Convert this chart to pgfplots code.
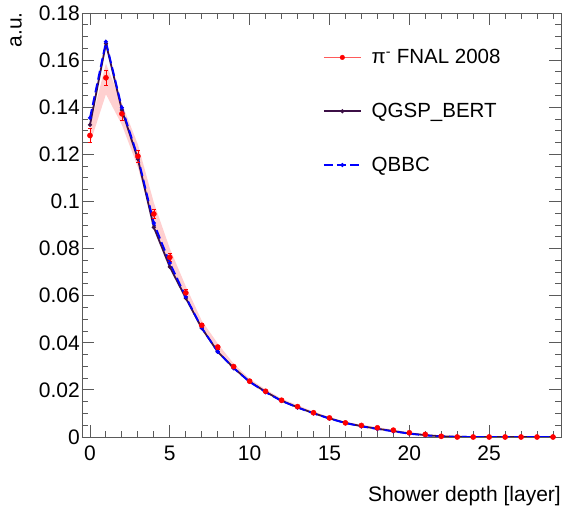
\documentclass[border=0pt]{standalone}
\usepackage{fontspec}
\setmainfont{Liberation Sans}
\usepackage{pgfplots}
\usepackage{pgfplotstable}
\pgfplotsset{compat=1.18}
\definecolor{qgsp}{RGB}{60,15,70}
\definecolor{bandc}{RGB}{255,208,208}
\definecolor{axisc}{RGB}{90,90,90}
\definecolor{datred}{RGB}{255,0,0}
\definecolor{lightred}{RGB}{255,90,90}

\pgfplotstableread{
x y e
0 0.1280 0.0030
1 0.1525 0.0032
2 0.1372 0.0027
3 0.1192 0.0024
4 0.0947 0.0020
5 0.0763 0.0016
6 0.0612 0.0013
7 0.0474 0.0010
8 0.0382 0.0008
9 0.0299 0.0006
10 0.0237 0.0005
11 0.0194 0.0004
12 0.0156 0.0003
13 0.0129 0.0003
14 0.0103 0.0002
15 0.0081 0.0002
16 0.0060 0.0002
17 0.0049 0.0001
18 0.0039 0.0001
19 0.0029 0.0001
20 0.0018 0.0001
21 0.0011 0.0001
22 0.0003 0.0000
23 0.0000 0.0000
24 0.0000 0.0000
25 0.0000 0.0000
26 0.0000 0.0000
27 0.0000 0.0000
28 0.0000 0.0000
29 0.0000 0.0000
}\fnal

% systematic band: upper edge (x = 0..29), then lower edge (x = 29..0)
\pgfplotstableread{
x y
0 0.1318
1 0.1585
2 0.1415
3 0.1242
4 0.0995
5 0.0800
6 0.0640
7 0.0494
8 0.0397
9 0.0311
10 0.0247
11 0.0202
12 0.0163
13 0.0135
14 0.0108
15 0.0085
16 0.0064
17 0.0052
18 0.0042
19 0.0031
20 0.0020
21 0.0012
22 0.0004
23 0.0000
29 0.0000
29 0.0000
23 0.0000
22 0.0002
21 0.0010
20 0.0016
19 0.0027
18 0.0036
17 0.0046
16 0.0057
15 0.0077
14 0.0098
13 0.0124
12 0.0150
11 0.0187
10 0.0228
9 0.0288
8 0.0368
7 0.0455
6 0.0586
5 0.0730
4 0.0905
3 0.1145
2 0.1325
1 0.1455
0 0.1245
}\fnalband

\pgfplotstableread{
x y
0 0.1325
1 0.1670
2 0.1388
3 0.1180
4 0.0890
5 0.0722
6 0.0590
7 0.0462
8 0.0362
9 0.0293
10 0.0235
11 0.0192
12 0.0154
13 0.0126
14 0.0101
15 0.0079
16 0.0060
17 0.0046
18 0.0035
19 0.0025
20 0.0015
21 0.0008
22 0.0003
23 0.0001
24 0.0000
25 0.0000
26 0.0000
27 0.0000
28 0.0000
29 0.0000
}\qgspbert

\pgfplotstableread{
x y
0 0.1355
1 0.1678
2 0.1398
3 0.1188
4 0.0908
5 0.0739
6 0.0595
7 0.0463
8 0.0362
9 0.0292
10 0.0234
11 0.0190
12 0.0153
13 0.0125
14 0.0100
15 0.0078
16 0.0059
17 0.0045
18 0.0034
19 0.0024
20 0.0014
21 0.0007
22 0.0002
23 0.0001
24 0.0000
25 0.0000
26 0.0000
27 0.0000
28 0.0000
29 0.0000
}\qbbc

\begin{document}
\begin{tikzpicture}
\path[use as bounding box] (-82pt,-71pt) rectangle (481pt,437pt);
\begin{axis}[
  name=ax,
  scale only axis,
  width=479pt, height=424pt,
  xmin=-0.5, xmax=29.5, ymin=0, ymax=0.18,
  font=\fontsize{21}{25}\selectfont,
  xtick={0,5,10,15,20,25},
  minor xtick={0,1,...,29},
  ytick={0,0.02,0.04,0.06,0.08,0.1,0.12,0.14,0.16,0.18},
  minor ytick={0,0.005,...,0.18},
  tick align=inside,
  xtick pos=both, ytick pos=both,
  major tick length=12pt, minor tick length=6pt,
  axis line style={axisc, line width=0.9pt},
  every tick/.style={axisc, line width=0.9pt},
  scaled y ticks=false,
  /pgf/number format/assume math mode=true,
  yticklabel style={/pgf/number format/fixed, /pgf/number format/precision=2, inner sep=0pt, xshift=-2pt},
  xticklabel style={inner sep=0pt, yshift=-9pt},
  xlabel={Shower depth [layer]},
  xlabel style={at={(axis description cs:1,-0.151)}, anchor=base east, inner sep=0pt},
  ylabel={a.u.},
  ylabel style={at={(axis description cs:-0.1378,1.0024)}, anchor=east, inner sep=0pt},
  legend image code/.code={\draw[mark repeat=2,mark phase=2,#1] plot coordinates {(0pt,0pt) (18.5pt,0pt) (37pt,0pt)};},
  legend style={fill=none, inner sep=0pt, outer sep=0pt,
    at={(axis description cs:0.503,0.9186)}, anchor=north west,
    font=\fontsize{20.5}{24}\selectfont,
    row sep=34pt,
    /tikz/every odd column/.append style={column sep=8pt}},
  every axis legend/.append style={draw=none},
  legend cell align=left,
]
\addplot[fill=bandc, draw=none, forget plot] table[x=x, y=y] {\fnalband} -- cycle;

\addlegendimage{legend image code/.code={%
  \draw[lightred, line width=1pt] (0pt,0pt) -- (37pt,0pt);
  \fill[datred] (18.5pt,0pt) circle (2.3pt);}}
\addlegendentry{π\textsuperscript{-} FNAL 2008}

\addplot[qgsp, line width=1.8pt, mark=*, mark size=1pt] table[x=x, y=y] {\qgspbert};
\addlegendentry{QGSP\_BERT}

\addplot[blue, line width=1.8pt, dash pattern=on 9pt off 4pt, mark=*, mark size=1pt, mark options={solid}] table[x=x, y=y] {\qbbc};
\addlegendentry{QBBC}

\addplot[datred, only marks, mark=*, mark size=2.6pt, forget plot,
  error bars/.cd, y dir=both, y explicit,
  error bar style={datred, line width=0.6pt},
  error mark options={rotate=90, datred, mark size=2pt, line width=0.6pt}]
  table[x=x, y=y, y error=e] {\fnal};
\end{axis}
\end{tikzpicture}
\end{document}
